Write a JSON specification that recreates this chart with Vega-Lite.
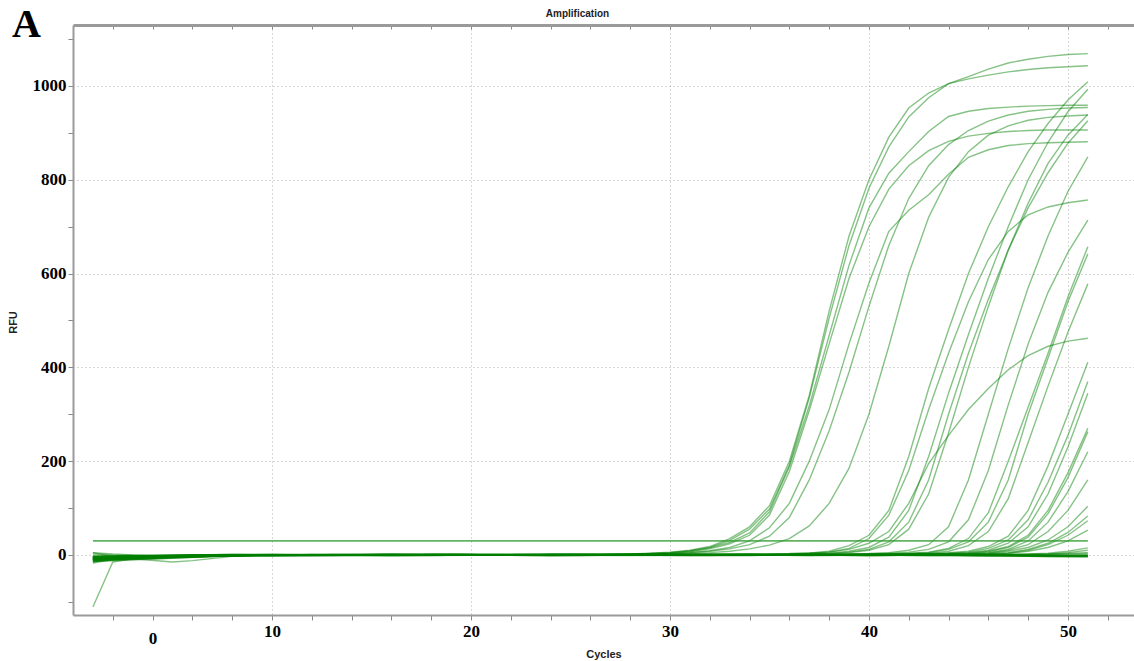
{
"$schema":"https://vega.github.io/schema/vega-lite/v6.json",
"autosize":{"type":"none"},
"padding":{"left":73,"top":25,"right":0,"bottom":46},
"width":1061,"height":590,
"background":"white",
"config":{"view":{"stroke":null}},
"title":{"text":"A","anchor":"start","frame":"group","font":"Liberation Serif","fontWeight":"bold","fontSize":40,"color":"#000","dx":-61,"offset":-32,"dy":37,"baseline":"alphabetic"},
"datasets":{
"thr":[{"c":1,"v":30},{"c":51,"v":30}],
"curves":[
{"s":"E1","c":1,"v":-6},{"s":"E1","c":6,"v":-1},{"s":"E1","c":12,"v":1},{"s":"E1","c":18,"v":0},{"s":"E1","c":24,"v":1},{"s":"E1","c":28,"v":2},{"s":"E1","c":29,"v":4},{"s":"E1","c":30,"v":6},{"s":"E1","c":31,"v":10},{"s":"E1","c":32,"v":18},{"s":"E1","c":33,"v":35},{"s":"E1","c":34,"v":60},{"s":"E1","c":35,"v":105},{"s":"E1","c":36,"v":200},{"s":"E1","c":37,"v":340},{"s":"E1","c":38,"v":520},{"s":"E1","c":39,"v":680},{"s":"E1","c":40,"v":800},{"s":"E1","c":41,"v":891},{"s":"E1","c":42,"v":953},{"s":"E1","c":43,"v":985},{"s":"E1","c":44,"v":1005},{"s":"E1","c":45,"v":1015},{"s":"E1","c":46,"v":1023},{"s":"E1","c":47,"v":1030},{"s":"E1","c":48,"v":1035},{"s":"E1","c":49,"v":1039},{"s":"E1","c":50,"v":1041},{"s":"E1","c":51,"v":1043},
{"s":"E2","c":1,"v":-9},{"s":"E2","c":6,"v":-2},{"s":"E2","c":12,"v":0},{"s":"E2","c":18,"v":1},{"s":"E2","c":24,"v":0},{"s":"E2","c":28,"v":2},{"s":"E2","c":29,"v":3},{"s":"E2","c":30,"v":5},{"s":"E2","c":31,"v":9},{"s":"E2","c":32,"v":16},{"s":"E2","c":33,"v":31},{"s":"E2","c":34,"v":55},{"s":"E2","c":35,"v":98},{"s":"E2","c":36,"v":192},{"s":"E2","c":37,"v":335},{"s":"E2","c":38,"v":505},{"s":"E2","c":39,"v":660},{"s":"E2","c":40,"v":782},{"s":"E2","c":41,"v":870},{"s":"E2","c":42,"v":934},{"s":"E2","c":43,"v":975},{"s":"E2","c":44,"v":1005},{"s":"E2","c":45,"v":1020},{"s":"E2","c":46,"v":1036},{"s":"E2","c":47,"v":1049},{"s":"E2","c":48,"v":1057},{"s":"E2","c":49,"v":1063},{"s":"E2","c":50,"v":1067},{"s":"E2","c":51,"v":1069},
{"s":"E3","c":1,"v":-4},{"s":"E3","c":6,"v":0},{"s":"E3","c":12,"v":-1},{"s":"E3","c":18,"v":1},{"s":"E3","c":24,"v":0},{"s":"E3","c":28,"v":1},{"s":"E3","c":29,"v":3},{"s":"E3","c":30,"v":5},{"s":"E3","c":31,"v":8},{"s":"E3","c":32,"v":15},{"s":"E3","c":33,"v":27},{"s":"E3","c":34,"v":47},{"s":"E3","c":35,"v":92},{"s":"E3","c":36,"v":188},{"s":"E3","c":37,"v":318},{"s":"E3","c":38,"v":468},{"s":"E3","c":39,"v":618},{"s":"E3","c":40,"v":740},{"s":"E3","c":41,"v":814},{"s":"E3","c":42,"v":860},{"s":"E3","c":43,"v":903},{"s":"E3","c":44,"v":935},{"s":"E3","c":45,"v":946},{"s":"E3","c":46,"v":952},{"s":"E3","c":47,"v":955},{"s":"E3","c":48,"v":957},{"s":"E3","c":49,"v":958},{"s":"E3","c":50,"v":959},{"s":"E3","c":51,"v":959},
{"s":"E7","c":1,"v":-12},{"s":"E7","c":6,"v":-3},{"s":"E7","c":12,"v":0},{"s":"E7","c":18,"v":0},{"s":"E7","c":24,"v":1},{"s":"E7","c":28,"v":1},{"s":"E7","c":29,"v":2},{"s":"E7","c":30,"v":4},{"s":"E7","c":31,"v":7},{"s":"E7","c":32,"v":13},{"s":"E7","c":33,"v":24},{"s":"E7","c":34,"v":42},{"s":"E7","c":35,"v":85},{"s":"E7","c":36,"v":178},{"s":"E7","c":37,"v":308},{"s":"E7","c":38,"v":450},{"s":"E7","c":39,"v":590},{"s":"E7","c":40,"v":700},{"s":"E7","c":41,"v":780},{"s":"E7","c":42,"v":830},{"s":"E7","c":43,"v":862},{"s":"E7","c":44,"v":882},{"s":"E7","c":45,"v":893},{"s":"E7","c":46,"v":899},{"s":"E7","c":47,"v":903},{"s":"E7","c":48,"v":905},{"s":"E7","c":49,"v":906},{"s":"E7","c":50,"v":906},{"s":"E7","c":51,"v":906},
{"s":"E5","c":1,"v":-7},{"s":"E5","c":6,"v":-1},{"s":"E5","c":12,"v":0},{"s":"E5","c":18,"v":-1},{"s":"E5","c":24,"v":0},{"s":"E5","c":29,"v":2},{"s":"E5","c":30,"v":3},{"s":"E5","c":31,"v":5},{"s":"E5","c":32,"v":9},{"s":"E5","c":33,"v":16},{"s":"E5","c":34,"v":30},{"s":"E5","c":35,"v":58},{"s":"E5","c":36,"v":110},{"s":"E5","c":37,"v":200},{"s":"E5","c":38,"v":310},{"s":"E5","c":39,"v":450},{"s":"E5","c":40,"v":580},{"s":"E5","c":41,"v":690},{"s":"E5","c":42,"v":735},{"s":"E5","c":43,"v":768},{"s":"E5","c":44,"v":812},{"s":"E5","c":45,"v":848},{"s":"E5","c":46,"v":864},{"s":"E5","c":47,"v":873},{"s":"E5","c":48,"v":877},{"s":"E5","c":49,"v":879},{"s":"E5","c":50,"v":880},{"s":"E5","c":51,"v":881},
{"s":"E4","c":1,"v":-10},{"s":"E4","c":6,"v":-2},{"s":"E4","c":12,"v":1},{"s":"E4","c":18,"v":0},{"s":"E4","c":24,"v":-1},{"s":"E4","c":29,"v":2},{"s":"E4","c":30,"v":3},{"s":"E4","c":31,"v":5},{"s":"E4","c":32,"v":8},{"s":"E4","c":33,"v":13},{"s":"E4","c":34,"v":22},{"s":"E4","c":35,"v":40},{"s":"E4","c":36,"v":80},{"s":"E4","c":37,"v":160},{"s":"E4","c":38,"v":265},{"s":"E4","c":39,"v":390},{"s":"E4","c":40,"v":530},{"s":"E4","c":41,"v":660},{"s":"E4","c":42,"v":760},{"s":"E4","c":43,"v":830},{"s":"E4","c":44,"v":875},{"s":"E4","c":45,"v":905},{"s":"E4","c":46,"v":925},{"s":"E4","c":47,"v":938},{"s":"E4","c":48,"v":946},{"s":"E4","c":49,"v":950},{"s":"E4","c":50,"v":953},{"s":"E4","c":51,"v":954},
{"s":"E6","c":1,"v":-5},{"s":"E6","c":6,"v":0},{"s":"E6","c":12,"v":0},{"s":"E6","c":18,"v":1},{"s":"E6","c":24,"v":0},{"s":"E6","c":30,"v":2},{"s":"E6","c":31,"v":3},{"s":"E6","c":32,"v":5},{"s":"E6","c":33,"v":8},{"s":"E6","c":34,"v":13},{"s":"E6","c":35,"v":21},{"s":"E6","c":36,"v":35},{"s":"E6","c":37,"v":62},{"s":"E6","c":38,"v":110},{"s":"E6","c":39,"v":185},{"s":"E6","c":40,"v":300},{"s":"E6","c":41,"v":445},{"s":"E6","c":42,"v":600},{"s":"E6","c":43,"v":720},{"s":"E6","c":44,"v":805},{"s":"E6","c":45,"v":860},{"s":"E6","c":46,"v":895},{"s":"E6","c":47,"v":915},{"s":"E6","c":48,"v":927},{"s":"E6","c":49,"v":933},{"s":"E6","c":50,"v":936},{"s":"E6","c":51,"v":938},
{"s":"L1","c":1,"v":-8},{"s":"L1","c":8,"v":0},{"s":"L1","c":16,"v":1},{"s":"L1","c":24,"v":0},{"s":"L1","c":32,"v":1},{"s":"L1","c":36,"v":2},{"s":"L1","c":37,"v":4},{"s":"L1","c":38,"v":8},{"s":"L1","c":39,"v":20},{"s":"L1","c":40,"v":42},{"s":"L1","c":41,"v":95},{"s":"L1","c":42,"v":210},{"s":"L1","c":43,"v":355},{"s":"L1","c":44,"v":480},{"s":"L1","c":45,"v":600},{"s":"L1","c":46,"v":700},{"s":"L1","c":47,"v":785},{"s":"L1","c":48,"v":860},{"s":"L1","c":49,"v":920},{"s":"L1","c":50,"v":970},{"s":"L1","c":51,"v":1009},
{"s":"L2","c":1,"v":-3},{"s":"L2","c":8,"v":1},{"s":"L2","c":16,"v":0},{"s":"L2","c":24,"v":-1},{"s":"L2","c":32,"v":1},{"s":"L2","c":36,"v":2},{"s":"L2","c":37,"v":3},{"s":"L2","c":38,"v":6},{"s":"L2","c":39,"v":14},{"s":"L2","c":40,"v":35},{"s":"L2","c":41,"v":85},{"s":"L2","c":42,"v":180},{"s":"L2","c":43,"v":310},{"s":"L2","c":44,"v":430},{"s":"L2","c":45,"v":540},{"s":"L2","c":46,"v":630},{"s":"L2","c":47,"v":690},{"s":"L2","c":48,"v":725},{"s":"L2","c":49,"v":742},{"s":"L2","c":50,"v":751},{"s":"L2","c":51,"v":757},
{"s":"L3","c":1,"v":-11},{"s":"L3","c":8,"v":-1},{"s":"L3","c":16,"v":0},{"s":"L3","c":24,"v":1},{"s":"L3","c":32,"v":0},{"s":"L3","c":36,"v":1},{"s":"L3","c":37,"v":2},{"s":"L3","c":38,"v":4},{"s":"L3","c":39,"v":8},{"s":"L3","c":40,"v":16},{"s":"L3","c":41,"v":38},{"s":"L3","c":42,"v":95},{"s":"L3","c":43,"v":210},{"s":"L3","c":44,"v":345},{"s":"L3","c":45,"v":470},{"s":"L3","c":46,"v":590},{"s":"L3","c":47,"v":700},{"s":"L3","c":48,"v":800},{"s":"L3","c":49,"v":880},{"s":"L3","c":50,"v":945},{"s":"L3","c":51,"v":993},
{"s":"L4","c":1,"v":-6},{"s":"L4","c":8,"v":0},{"s":"L4","c":16,"v":-1},{"s":"L4","c":24,"v":0},{"s":"L4","c":32,"v":1},{"s":"L4","c":36,"v":1},{"s":"L4","c":38,"v":3},{"s":"L4","c":39,"v":6},{"s":"L4","c":40,"v":12},{"s":"L4","c":41,"v":28},{"s":"L4","c":42,"v":70},{"s":"L4","c":43,"v":160},{"s":"L4","c":44,"v":300},{"s":"L4","c":45,"v":430},{"s":"L4","c":46,"v":545},{"s":"L4","c":47,"v":650},{"s":"L4","c":48,"v":740},{"s":"L4","c":49,"v":815},{"s":"L4","c":50,"v":878},{"s":"L4","c":51,"v":926},
{"s":"L5","c":1,"v":-14},{"s":"L5","c":8,"v":-2},{"s":"L5","c":16,"v":0},{"s":"L5","c":24,"v":0},{"s":"L5","c":32,"v":0},{"s":"L5","c":36,"v":1},{"s":"L5","c":38,"v":2},{"s":"L5","c":39,"v":5},{"s":"L5","c":40,"v":10},{"s":"L5","c":41,"v":22},{"s":"L5","c":42,"v":55},{"s":"L5","c":43,"v":130},{"s":"L5","c":44,"v":260},{"s":"L5","c":45,"v":400},{"s":"L5","c":46,"v":530},{"s":"L5","c":47,"v":650},{"s":"L5","c":48,"v":750},{"s":"L5","c":49,"v":835},{"s":"L5","c":50,"v":895},{"s":"L5","c":51,"v":939},
{"s":"L6","c":1,"v":-2},{"s":"L6","c":8,"v":1},{"s":"L6","c":16,"v":0},{"s":"L6","c":24,"v":1},{"s":"L6","c":32,"v":2},{"s":"L6","c":36,"v":3},{"s":"L6","c":38,"v":6},{"s":"L6","c":39,"v":12},{"s":"L6","c":40,"v":25},{"s":"L6","c":41,"v":50},{"s":"L6","c":42,"v":110},{"s":"L6","c":43,"v":195},{"s":"L6","c":44,"v":255},{"s":"L6","c":45,"v":310},{"s":"L6","c":46,"v":355},{"s":"L6","c":47,"v":395},{"s":"L6","c":48,"v":425},{"s":"L6","c":49,"v":445},{"s":"L6","c":50,"v":456},{"s":"L6","c":51,"v":462},
{"s":"L7","c":1,"v":-9},{"s":"L7","c":8,"v":-1},{"s":"L7","c":16,"v":1},{"s":"L7","c":24,"v":0},{"s":"L7","c":32,"v":0},{"s":"L7","c":38,"v":1},{"s":"L7","c":40,"v":3},{"s":"L7","c":41,"v":5},{"s":"L7","c":42,"v":10},{"s":"L7","c":43,"v":22},{"s":"L7","c":44,"v":60},{"s":"L7","c":45,"v":160},{"s":"L7","c":46,"v":300},{"s":"L7","c":47,"v":440},{"s":"L7","c":48,"v":570},{"s":"L7","c":49,"v":680},{"s":"L7","c":50,"v":775},{"s":"L7","c":51,"v":849},
{"s":"L8","c":1,"v":-5},{"s":"L8","c":8,"v":0},{"s":"L8","c":16,"v":0},{"s":"L8","c":24,"v":-1},{"s":"L8","c":32,"v":0},{"s":"L8","c":38,"v":1},{"s":"L8","c":40,"v":2},{"s":"L8","c":41,"v":4},{"s":"L8","c":42,"v":6},{"s":"L8","c":43,"v":12},{"s":"L8","c":44,"v":28},{"s":"L8","c":45,"v":75},{"s":"L8","c":46,"v":180},{"s":"L8","c":47,"v":320},{"s":"L8","c":48,"v":450},{"s":"L8","c":49,"v":560},{"s":"L8","c":50,"v":645},{"s":"L8","c":51,"v":714},
{"s":"L9","c":1,"v":-7},{"s":"L9","c":8,"v":-1},{"s":"L9","c":16,"v":0},{"s":"L9","c":24,"v":0},{"s":"L9","c":32,"v":1},{"s":"L9","c":38,"v":0},{"s":"L9","c":41,"v":2},{"s":"L9","c":42,"v":4},{"s":"L9","c":43,"v":6},{"s":"L9","c":44,"v":14},{"s":"L9","c":45,"v":35},{"s":"L9","c":46,"v":90},{"s":"L9","c":47,"v":200},{"s":"L9","c":48,"v":315},{"s":"L9","c":49,"v":430},{"s":"L9","c":50,"v":550},{"s":"L9","c":51,"v":657},
{"s":"L10","c":1,"v":-10},{"s":"L10","c":8,"v":-2},{"s":"L10","c":16,"v":0},{"s":"L10","c":24,"v":1},{"s":"L10","c":32,"v":0},{"s":"L10","c":38,"v":1},{"s":"L10","c":41,"v":2},{"s":"L10","c":42,"v":3},{"s":"L10","c":43,"v":5},{"s":"L10","c":44,"v":12},{"s":"L10","c":45,"v":28},{"s":"L10","c":46,"v":70},{"s":"L10","c":47,"v":160},{"s":"L10","c":48,"v":300},{"s":"L10","c":49,"v":420},{"s":"L10","c":50,"v":540},{"s":"L10","c":51,"v":642},
{"s":"L11","c":1,"v":-4},{"s":"L11","c":8,"v":0},{"s":"L11","c":16,"v":1},{"s":"L11","c":24,"v":0},{"s":"L11","c":32,"v":-1},{"s":"L11","c":38,"v":0},{"s":"L11","c":42,"v":2},{"s":"L11","c":43,"v":4},{"s":"L11","c":44,"v":8},{"s":"L11","c":45,"v":20},{"s":"L11","c":46,"v":50},{"s":"L11","c":47,"v":120},{"s":"L11","c":48,"v":240},{"s":"L11","c":49,"v":360},{"s":"L11","c":50,"v":475},{"s":"L11","c":51,"v":578},
{"s":"L12","c":1,"v":-8},{"s":"L12","c":8,"v":-1},{"s":"L12","c":16,"v":0},{"s":"L12","c":24,"v":0},{"s":"L12","c":32,"v":1},{"s":"L12","c":38,"v":0},{"s":"L12","c":42,"v":1},{"s":"L12","c":43,"v":3},{"s":"L12","c":44,"v":5},{"s":"L12","c":45,"v":8},{"s":"L12","c":46,"v":18},{"s":"L12","c":47,"v":40},{"s":"L12","c":48,"v":95},{"s":"L12","c":49,"v":190},{"s":"L12","c":50,"v":300},{"s":"L12","c":51,"v":411},
{"s":"L13","c":1,"v":-13},{"s":"L13","c":8,"v":-2},{"s":"L13","c":16,"v":-1},{"s":"L13","c":24,"v":0},{"s":"L13","c":32,"v":0},{"s":"L13","c":38,"v":1},{"s":"L13","c":42,"v":1},{"s":"L13","c":43,"v":2},{"s":"L13","c":44,"v":4},{"s":"L13","c":45,"v":6},{"s":"L13","c":46,"v":14},{"s":"L13","c":47,"v":32},{"s":"L13","c":48,"v":75},{"s":"L13","c":49,"v":155},{"s":"L13","c":50,"v":255},{"s":"L13","c":51,"v":370},
{"s":"L14","c":1,"v":-6},{"s":"L14","c":8,"v":0},{"s":"L14","c":16,"v":0},{"s":"L14","c":24,"v":1},{"s":"L14","c":32,"v":0},{"s":"L14","c":38,"v":0},{"s":"L14","c":43,"v":2},{"s":"L14","c":44,"v":3},{"s":"L14","c":45,"v":5},{"s":"L14","c":46,"v":10},{"s":"L14","c":47,"v":25},{"s":"L14","c":48,"v":60},{"s":"L14","c":49,"v":130},{"s":"L14","c":50,"v":230},{"s":"L14","c":51,"v":345},
{"s":"L15","c":1,"v":-9},{"s":"L15","c":8,"v":-1},{"s":"L15","c":16,"v":1},{"s":"L15","c":24,"v":0},{"s":"L15","c":32,"v":0},{"s":"L15","c":38,"v":1},{"s":"L15","c":44,"v":2},{"s":"L15","c":45,"v":4},{"s":"L15","c":46,"v":8},{"s":"L15","c":47,"v":18},{"s":"L15","c":48,"v":42},{"s":"L15","c":49,"v":95},{"s":"L15","c":50,"v":175},{"s":"L15","c":51,"v":270},
{"s":"L16","c":1,"v":-3},{"s":"L16","c":8,"v":0},{"s":"L16","c":16,"v":0},{"s":"L16","c":24,"v":-1},{"s":"L16","c":32,"v":0},{"s":"L16","c":38,"v":0},{"s":"L16","c":44,"v":2},{"s":"L16","c":45,"v":3},{"s":"L16","c":46,"v":7},{"s":"L16","c":47,"v":16},{"s":"L16","c":48,"v":38},{"s":"L16","c":49,"v":88},{"s":"L16","c":50,"v":165},{"s":"L16","c":51,"v":263},
{"s":"L17","c":1,"v":-11},{"s":"L17","c":8,"v":-1},{"s":"L17","c":16,"v":0},{"s":"L17","c":24,"v":0},{"s":"L17","c":32,"v":1},{"s":"L17","c":40,"v":0},{"s":"L17","c":45,"v":2},{"s":"L17","c":46,"v":5},{"s":"L17","c":47,"v":12},{"s":"L17","c":48,"v":30},{"s":"L17","c":49,"v":70},{"s":"L17","c":50,"v":135},{"s":"L17","c":51,"v":220},
{"s":"L18","c":1,"v":-7},{"s":"L18","c":8,"v":0},{"s":"L18","c":16,"v":-1},{"s":"L18","c":24,"v":0},{"s":"L18","c":32,"v":0},{"s":"L18","c":40,"v":1},{"s":"L18","c":45,"v":2},{"s":"L18","c":46,"v":4},{"s":"L18","c":47,"v":10},{"s":"L18","c":48,"v":22},{"s":"L18","c":49,"v":50},{"s":"L18","c":50,"v":95},{"s":"L18","c":51,"v":160},
{"s":"L19","c":1,"v":-5},{"s":"L19","c":8,"v":-1},{"s":"L19","c":16,"v":0},{"s":"L19","c":24,"v":1},{"s":"L19","c":32,"v":0},{"s":"L19","c":40,"v":0},{"s":"L19","c":45,"v":1},{"s":"L19","c":46,"v":3},{"s":"L19","c":47,"v":8},{"s":"L19","c":48,"v":16},{"s":"L19","c":49,"v":32},{"s":"L19","c":50,"v":60},{"s":"L19","c":51,"v":104},
{"s":"L20","c":1,"v":-12},{"s":"L20","c":8,"v":-2},{"s":"L20","c":16,"v":0},{"s":"L20","c":24,"v":0},{"s":"L20","c":32,"v":-1},{"s":"L20","c":40,"v":0},{"s":"L20","c":46,"v":2},{"s":"L20","c":47,"v":5},{"s":"L20","c":48,"v":12},{"s":"L20","c":49,"v":25},{"s":"L20","c":50,"v":48},{"s":"L20","c":51,"v":83},
{"s":"L21","c":1,"v":-8},{"s":"L21","c":8,"v":0},{"s":"L21","c":16,"v":0},{"s":"L21","c":24,"v":0},{"s":"L21","c":32,"v":0},{"s":"L21","c":40,"v":1},{"s":"L21","c":46,"v":2},{"s":"L21","c":47,"v":4},{"s":"L21","c":48,"v":10},{"s":"L21","c":49,"v":22},{"s":"L21","c":50,"v":42},{"s":"L21","c":51,"v":73},
{"s":"L22","c":1,"v":-4},{"s":"L22","c":8,"v":0},{"s":"L22","c":16,"v":1},{"s":"L22","c":24,"v":0},{"s":"L22","c":32,"v":0},{"s":"L22","c":40,"v":0},{"s":"L22","c":46,"v":1},{"s":"L22","c":47,"v":3},{"s":"L22","c":48,"v":8},{"s":"L22","c":49,"v":16},{"s":"L22","c":50,"v":30},{"s":"L22","c":51,"v":53},
{"s":"L23","c":1,"v":-10},{"s":"L23","c":8,"v":-1},{"s":"L23","c":16,"v":0},{"s":"L23","c":24,"v":0},{"s":"L23","c":32,"v":0},{"s":"L23","c":40,"v":-1},{"s":"L23","c":46,"v":0},{"s":"L23","c":48,"v":2},{"s":"L23","c":49,"v":4},{"s":"L23","c":50,"v":8},{"s":"L23","c":51,"v":15},
{"s":"L24","c":1,"v":-6},{"s":"L24","c":8,"v":0},{"s":"L24","c":16,"v":0},{"s":"L24","c":24,"v":1},{"s":"L24","c":32,"v":0},{"s":"L24","c":40,"v":0},{"s":"L24","c":46,"v":-1},{"s":"L24","c":48,"v":1},{"s":"L24","c":49,"v":2},{"s":"L24","c":50,"v":5},{"s":"L24","c":51,"v":10},
{"s":"O1","c":1,"v":-111},{"s":"O1","c":2,"v":-15},{"s":"O1","c":3,"v":-8},{"s":"O1","c":5,"v":-4},{"s":"O1","c":8,"v":-1},{"s":"O1","c":12,"v":0},{"s":"O1","c":20,"v":1},{"s":"O1","c":30,"v":0},{"s":"O1","c":40,"v":0},{"s":"O1","c":51,"v":-1},
{"s":"F11","c":1,"v":5},{"s":"F11","c":2,"v":-3},{"s":"F11","c":3,"v":-8},{"s":"F11","c":5,"v":-15},{"s":"F11","c":6,"v":-12},{"s":"F11","c":8,"v":-3},{"s":"F11","c":10,"v":0},{"s":"F11","c":15,"v":1},{"s":"F11","c":25,"v":0},{"s":"F11","c":35,"v":0},{"s":"F11","c":45,"v":0},{"s":"F11","c":51,"v":0},
{"s":"F1","c":1,"v":-15},{"s":"F1","c":2,"v":-8},{"s":"F1","c":3,"v":-5},{"s":"F1","c":4,"v":-3},{"s":"F1","c":6,"v":-2},{"s":"F1","c":8,"v":-1},{"s":"F1","c":10,"v":0},{"s":"F1","c":13,"v":1},{"s":"F1","c":16,"v":0},{"s":"F1","c":19,"v":2},{"s":"F1","c":22,"v":1},{"s":"F1","c":25,"v":0},{"s":"F1","c":28,"v":1},{"s":"F1","c":31,"v":0},{"s":"F1","c":34,"v":-1},{"s":"F1","c":37,"v":0},{"s":"F1","c":40,"v":-1},{"s":"F1","c":43,"v":0},{"s":"F1","c":46,"v":-2},{"s":"F1","c":49,"v":-3},{"s":"F1","c":51,"v":-3},
{"s":"F2","c":1,"v":-17},{"s":"F2","c":2,"v":-10},{"s":"F2","c":3,"v":-6},{"s":"F2","c":4,"v":-4},{"s":"F2","c":6,"v":-3},{"s":"F2","c":8,"v":-1},{"s":"F2","c":10,"v":-1},{"s":"F2","c":13,"v":0},{"s":"F2","c":16,"v":1},{"s":"F2","c":19,"v":0},{"s":"F2","c":22,"v":1},{"s":"F2","c":25,"v":1},{"s":"F2","c":28,"v":0},{"s":"F2","c":31,"v":1},{"s":"F2","c":34,"v":0},{"s":"F2","c":37,"v":-1},{"s":"F2","c":40,"v":0},{"s":"F2","c":43,"v":-1},{"s":"F2","c":46,"v":-1},{"s":"F2","c":49,"v":-4},{"s":"F2","c":51,"v":-4},
{"s":"F3","c":1,"v":2},{"s":"F3","c":2,"v":0},{"s":"F3","c":3,"v":-1},{"s":"F3","c":4,"v":-1},{"s":"F3","c":6,"v":0},{"s":"F3","c":8,"v":1},{"s":"F3","c":10,"v":0},{"s":"F3","c":13,"v":-1},{"s":"F3","c":16,"v":0},{"s":"F3","c":19,"v":1},{"s":"F3","c":22,"v":0},{"s":"F3","c":25,"v":-1},{"s":"F3","c":28,"v":0},{"s":"F3","c":31,"v":0},{"s":"F3","c":34,"v":1},{"s":"F3","c":37,"v":0},{"s":"F3","c":40,"v":0},{"s":"F3","c":43,"v":-1},{"s":"F3","c":46,"v":0},{"s":"F3","c":49,"v":-1},{"s":"F3","c":51,"v":-2},
{"s":"F4","c":1,"v":5},{"s":"F4","c":2,"v":2},{"s":"F4","c":3,"v":0},{"s":"F4","c":4,"v":-1},{"s":"F4","c":6,"v":-1},{"s":"F4","c":8,"v":0},{"s":"F4","c":10,"v":1},{"s":"F4","c":13,"v":0},{"s":"F4","c":16,"v":-1},{"s":"F4","c":19,"v":0},{"s":"F4","c":22,"v":0},{"s":"F4","c":25,"v":1},{"s":"F4","c":28,"v":0},{"s":"F4","c":31,"v":-1},{"s":"F4","c":34,"v":0},{"s":"F4","c":37,"v":1},{"s":"F4","c":40,"v":-1},{"s":"F4","c":43,"v":0},{"s":"F4","c":46,"v":-1},{"s":"F4","c":49,"v":-2},{"s":"F4","c":51,"v":-2},
{"s":"F5","c":1,"v":-12},{"s":"F5","c":2,"v":-7},{"s":"F5","c":3,"v":-4},{"s":"F5","c":4,"v":-3},{"s":"F5","c":6,"v":-1},{"s":"F5","c":8,"v":0},{"s":"F5","c":10,"v":-1},{"s":"F5","c":13,"v":0},{"s":"F5","c":16,"v":1},{"s":"F5","c":19,"v":1},{"s":"F5","c":22,"v":0},{"s":"F5","c":25,"v":0},{"s":"F5","c":28,"v":1},{"s":"F5","c":31,"v":0},{"s":"F5","c":34,"v":0},{"s":"F5","c":37,"v":0},{"s":"F5","c":40,"v":1},{"s":"F5","c":43,"v":0},{"s":"F5","c":46,"v":-1},{"s":"F5","c":49,"v":-2},{"s":"F5","c":51,"v":-1},
{"s":"F6","c":1,"v":-8},{"s":"F6","c":2,"v":-5},{"s":"F6","c":3,"v":-3},{"s":"F6","c":4,"v":-2},{"s":"F6","c":6,"v":-1},{"s":"F6","c":8,"v":-1},{"s":"F6","c":10,"v":0},{"s":"F6","c":13,"v":0},{"s":"F6","c":16,"v":0},{"s":"F6","c":19,"v":1},{"s":"F6","c":22,"v":1},{"s":"F6","c":25,"v":0},{"s":"F6","c":28,"v":-1},{"s":"F6","c":31,"v":0},{"s":"F6","c":34,"v":1},{"s":"F6","c":37,"v":0},{"s":"F6","c":40,"v":0},{"s":"F6","c":43,"v":1},{"s":"F6","c":46,"v":0},{"s":"F6","c":49,"v":-1},{"s":"F6","c":51,"v":-1},
{"s":"F7","c":1,"v":-14},{"s":"F7","c":2,"v":-9},{"s":"F7","c":3,"v":-5},{"s":"F7","c":4,"v":-4},{"s":"F7","c":6,"v":-2},{"s":"F7","c":8,"v":-1},{"s":"F7","c":10,"v":0},{"s":"F7","c":13,"v":1},{"s":"F7","c":16,"v":1},{"s":"F7","c":19,"v":0},{"s":"F7","c":22,"v":1},{"s":"F7","c":25,"v":1},{"s":"F7","c":28,"v":0},{"s":"F7","c":31,"v":1},{"s":"F7","c":34,"v":0},{"s":"F7","c":37,"v":0},{"s":"F7","c":40,"v":0},{"s":"F7","c":43,"v":-1},{"s":"F7","c":46,"v":-1},{"s":"F7","c":49,"v":-3},{"s":"F7","c":51,"v":-3},
{"s":"F8","c":1,"v":-3},{"s":"F8","c":2,"v":-2},{"s":"F8","c":3,"v":-1},{"s":"F8","c":4,"v":-2},{"s":"F8","c":6,"v":-3},{"s":"F8","c":8,"v":-1},{"s":"F8","c":10,"v":0},{"s":"F8","c":13,"v":0},{"s":"F8","c":16,"v":1},{"s":"F8","c":19,"v":0},{"s":"F8","c":22,"v":0},{"s":"F8","c":25,"v":0},{"s":"F8","c":28,"v":1},{"s":"F8","c":31,"v":0},{"s":"F8","c":34,"v":0},{"s":"F8","c":37,"v":1},{"s":"F8","c":40,"v":0},{"s":"F8","c":43,"v":0},{"s":"F8","c":46,"v":0},{"s":"F8","c":49,"v":1},{"s":"F8","c":51,"v":3},
{"s":"F9","c":1,"v":-10},{"s":"F9","c":2,"v":-6},{"s":"F9","c":3,"v":-3},{"s":"F9","c":4,"v":-2},{"s":"F9","c":6,"v":-4},{"s":"F9","c":8,"v":-1},{"s":"F9","c":10,"v":0},{"s":"F9","c":13,"v":0},{"s":"F9","c":16,"v":0},{"s":"F9","c":19,"v":0},{"s":"F9","c":22,"v":1},{"s":"F9","c":25,"v":0},{"s":"F9","c":28,"v":0},{"s":"F9","c":31,"v":0},{"s":"F9","c":34,"v":0},{"s":"F9","c":37,"v":-1},{"s":"F9","c":40,"v":0},{"s":"F9","c":43,"v":1},{"s":"F9","c":46,"v":1},{"s":"F9","c":49,"v":2},{"s":"F9","c":51,"v":5},
{"s":"F10","c":1,"v":-6},{"s":"F10","c":2,"v":-4},{"s":"F10","c":3,"v":-2},{"s":"F10","c":4,"v":-2},{"s":"F10","c":6,"v":-1},{"s":"F10","c":8,"v":0},{"s":"F10","c":10,"v":1},{"s":"F10","c":13,"v":0},{"s":"F10","c":16,"v":0},{"s":"F10","c":19,"v":1},{"s":"F10","c":22,"v":0},{"s":"F10","c":25,"v":1},{"s":"F10","c":28,"v":0},{"s":"F10","c":31,"v":0},{"s":"F10","c":34,"v":1},{"s":"F10","c":37,"v":0},{"s":"F10","c":40,"v":-1},{"s":"F10","c":43,"v":0},{"s":"F10","c":46,"v":-2},{"s":"F10","c":49,"v":-3},{"s":"F10","c":51,"v":-4}
]},
"layer":[
{"data":{"name":"curves"},
 "mark":{"type":"line","color":"#008000","opacity":0.48,"strokeWidth":1.4,"clip":true},
 "encoding":{
  "x":{"field":"c","type":"quantitative","scale":{"domain":[0,53.32],"nice":false,"zero":false},
   "axis":{"orient":"bottom","values":[2,4,6,8,10,12,14,16,18,20,22,24,26,28,30,32,34,36,38,40,42,44,46,48,50,52],"format":"d",
    "labelExpr":"datum.value==4?'0':(datum.value%10==0?datum.label:'')",
    "labelFont":"Liberation Serif","labelFontWeight":"bold","labelFontSize":17,"labelColor":"#000",
    "labelPadding":{"condition":{"test":"datum.value==4","value":10},"value":3},
    "labelFlush":false,"labelOverlap":false,"labelBaseline":"top",
    "tickColor":"#888","tickSize":5,"tickWidth":1,
    "domainColor":"#9a9a9a","domainWidth":2,
    "grid":true,"gridColor":"#b0b0b0","gridDash":[1,3],"gridWidth":1,
    "gridOpacity":{"condition":{"test":"datum.value%10!=0","value":0},"value":1},
    "title":"Cycles","titleFont":"Liberation Sans","titleFontWeight":"bold","titleFontSize":11,"titleColor":"#222",
    "titleY":42,"titleBaseline":"alphabetic"}},
  "y":{"field":"v","type":"quantitative","title":"RFU","scale":{"domain":[-128,1130],"nice":false,"zero":false},
   "axis":{"values":[-100,-50,0,50,100,150,200,250,300,350,400,450,500,550,600,650,700,750,800,850,900,950,1000,1050,1100],"format":"d",
    "labelExpr":"datum.value%200==0?datum.label:''",
    "labelFont":"Liberation Serif","labelFontWeight":"bold","labelFontSize":17,"labelColor":"#000","labelPadding":2,
    "tickColor":"#888","tickSize":5,"tickWidth":1,
    "domainColor":"#9a9a9a","domainWidth":2,
    "grid":true,"gridColor":"#b0b0b0","gridDash":[1,3],"gridWidth":1,
    "gridOpacity":{"condition":{"test":"datum.value%200!=0","value":0},"value":1},
    "titleFont":"Liberation Sans","titleFontWeight":"bold","titleFontSize":11,"titleColor":"#222",
    "titleAngle":-90,"titleX":-57,"titleY":297,"titleBaseline":"alphabetic","titleAlign":"center"}},
  "detail":{"field":"s","type":"nominal"}
 }},
{"data":{"name":"thr"},
 "mark":{"type":"line","color":"#2e9a2e","opacity":0.75,"strokeWidth":1.8,"clip":true},
 "encoding":{
  "x":{"field":"c","type":"quantitative","scale":{"domain":[0,53.32],"nice":false,"zero":false},
   "axis":{"orient":"top","values":[2,4,6,8,10,12,14,16,18,20,22,24,26,28,30,32,34,36,38,40,42,44,46,48,50,52],
    "labels":false,"grid":false,"tickColor":"#888","tickSize":-4,"tickWidth":1,
    "domainColor":"#9a9a9a","domainWidth":3,
    "title":"Amplification","titleFont":"Liberation Sans","titleFontWeight":"bold","titleFontSize":10,"titleColor":"#222",
    "titleX":504,"titleY":-9,"titleBaseline":"alphabetic"}},
  "y":{"field":"v","type":"quantitative","title":"RFU"}
 }}
],
"resolve":{"axis":{"x":"independent"}}
}
